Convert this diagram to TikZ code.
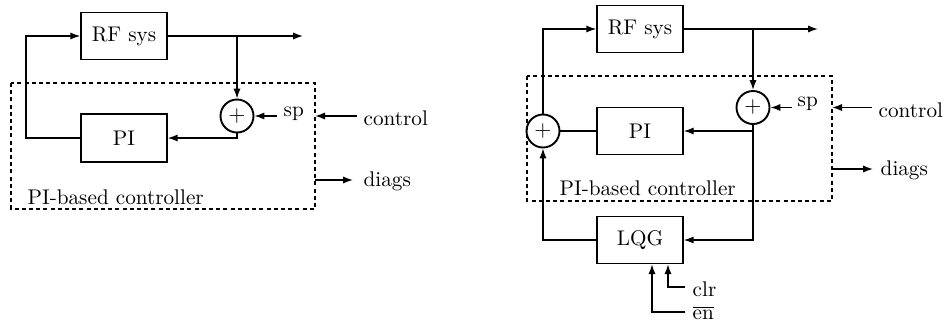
\documentclass[tikz,border=0pt]{standalone}
\usetikzlibrary{arrows.meta}
\begin{document}
\begin{tikzpicture}[x=0.5pt,y=-0.5pt,
  line width=0.7pt,
  every node/.style={font=\fontsize{10.6}{12}\selectfont},
  >={Latex[length=5pt,width=3.6pt]},
  blockbox/.style={draw,minimum width=43pt,minimum height=23.5pt,inner sep=0pt},
  sumnode/.style={draw,circle,line width=0.95pt,minimum size=16.5pt,inner sep=0pt},
  ctrlframe/.style={dash pattern=on 2pt off 1.6pt,line width=0.6pt},
  sig/.style={inner sep=0pt,anchor=west}]
\useasboundingbox (0,0) rectangle (946,322);

% ---------- PI-based controller alone ----------
\draw[ctrlframe] (11,83) rectangle (315,209);
\node[blockbox] (rf1) at (124,36) {RF sys};
\node[blockbox,minimum height=24pt] (pi1) at (124,138) {PI};
\node[sumnode] (s1) at (237,116) {$+$};
\node[sig] (sp1) at (283,114) {sp};
\node[sig] (ctl1) at (363,118) {control};
\node[sig] (dg1) at (363,181) {diags};
\node[sig] (lab1) at (27,197) {PI-based controller};
\coordinate (out1) at (303,36);
\coordinate (tap1) at (237,36);
\coordinate (sp1in) at (277,116);
\coordinate (ctl1in) at (357,116);
\coordinate (ctl1out) at (315,116);
\coordinate (dg1a) at (315,180);
\coordinate (dg1b) at (353,180);
\coordinate (pi1in) at (237,138);
\coordinate (fb1) at (26,138);
\coordinate (fb1t) at (26,36);

\draw[->] (rf1.east) -- (out1);
\draw[->] (tap1) -- (s1.north);
\draw[->] (sp1in) -- (s1.east);
\draw[->] (ctl1in) -- (ctl1out);
\draw[->] (dg1a) -- (dg1b);
\draw[->] (s1.south) -- (pi1in) -- (pi1.east);
\draw[->] (pi1.west) -- (fb1) -- (fb1t) -- (rf1.west);

% ---------- PI controller with LQG branch ----------
\draw[ctrlframe] (527,76) rectangle (832,201);
\node[blockbox] (rf2) at (640,29) {RF sys};
\node[blockbox] (pi2) at (640,131) {PI};
\node[blockbox] (lqg) at (640,240) {LQG};
\node[sumnode] (s2) at (753,107.5) {$+$};
\node[sumnode] (s3) at (543,131) {$+$};
\node[sig] (sp2) at (797,104) {sp};
\node[sig] (ctl2) at (878,110) {control};
\node[sig] (dg2) at (880,170) {diags};
\node[sig] (lab2) at (559,188) {PI-based controller};
\node[sig] (clr) at (692,289) {clr};
\node[sig] (en) at (692,313) {$\overline{\mbox{en}}$};
\coordinate (out2) at (818,29);
\coordinate (tap2) at (753,29);
\coordinate (sp2in) at (792,107.5);
\coordinate (ctl2in) at (872,107.5);
\coordinate (ctl2out) at (832,107.5);
\coordinate (dg2a) at (832,169);
\coordinate (dg2b) at (873,169);
\coordinate (pi2in) at (753,131);
\coordinate (lqgin) at (753,240);
\coordinate (fb2t) at (543,29);
\coordinate (lqgout) at (543,240);
\coordinate (clra) at (685,287);
\coordinate (clrb) at (668,287);
\coordinate (ena) at (685,312);
\coordinate (enb) at (652,312);

\draw[->] (rf2.east) -- (out2);
\draw[->] (tap2) -- (s2.north);
\draw[->] (sp2in) -- (s2.east);
\draw[->] (ctl2in) -- (ctl2out);
\draw[->] (dg2a) -- (dg2b);
\draw (s2.south) -- (pi2in);
\draw[->] (pi2in) -- (pi2.east);
\draw[->] (pi2in) -- (lqgin) -- (lqg.east);
\draw (pi2.west) -- (s3.east);
\draw[->] (s3.north) -- (fb2t) -- (rf2.west);
\draw[->] (lqg.west) -- (lqgout) -- (s3.south);
\draw[->] (clra) -- (clrb) -- (clrb |- lqg.south);
\draw[->] (ena) -- (enb) -- (enb |- lqg.south);
\end{tikzpicture}
\end{document}
